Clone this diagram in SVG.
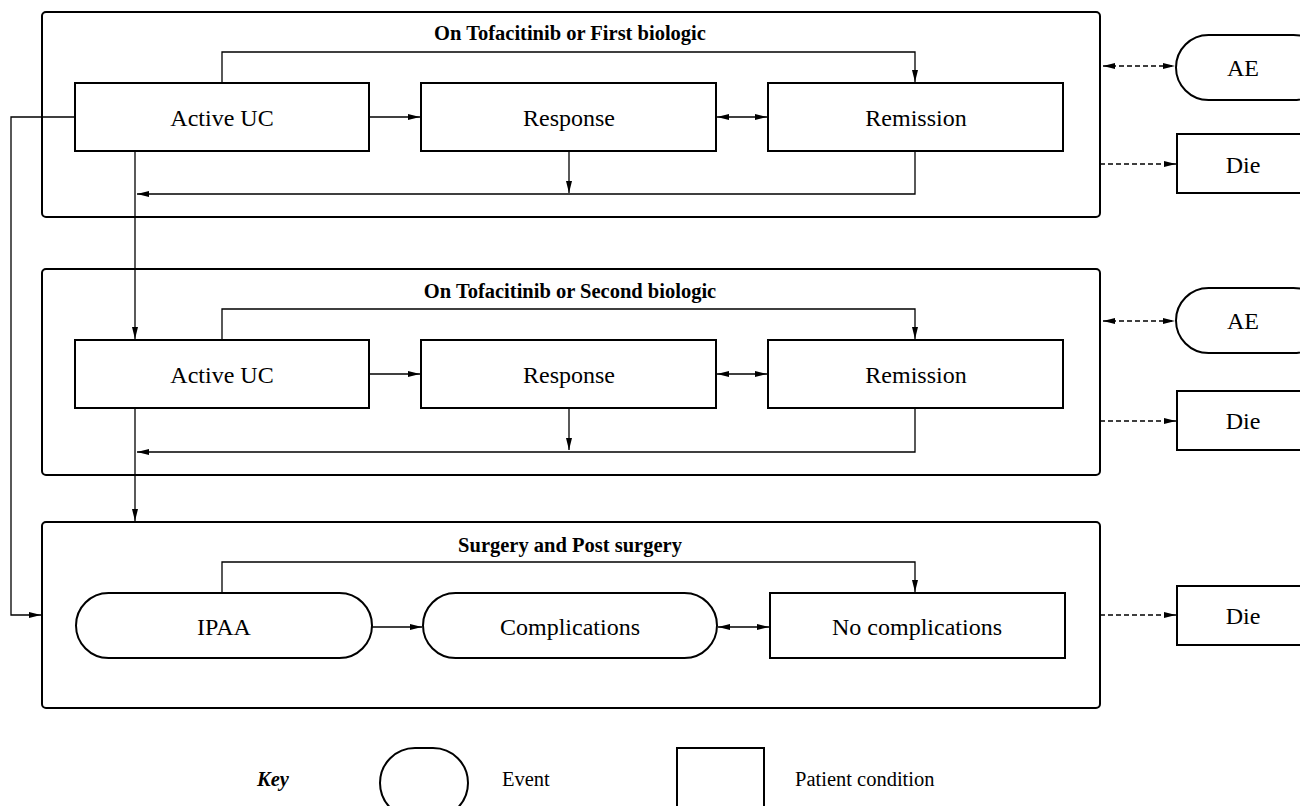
<svg xmlns="http://www.w3.org/2000/svg" width="1300" height="806" viewBox="0 0 1300 806">
<style>
.panel{fill:none;stroke:#000;stroke-width:2}
.box{fill:#fff;stroke:#000;stroke-width:2}
.lbl{font-family:"Liberation Serif",serif;font-size:24px;text-anchor:middle;dominant-baseline:central;fill:#000}
.ttl{font-family:"Liberation Serif",serif;font-size:20.5px;font-weight:bold;text-anchor:middle;fill:#000}
.ln{fill:none;stroke:#000;stroke-width:1.3}
.ar{marker-end:url(#ah)}
.dar{marker-end:url(#ah);marker-start:url(#ahs)}
.dash{stroke-dasharray:5,3}
.key{font-family:"Liberation Serif",serif;font-size:20.5px;fill:#000;dominant-baseline:central}
</style>
<defs>
<marker id="ah" viewBox="0 0 12 6" refX="12" refY="3" markerWidth="12" markerHeight="6" markerUnits="userSpaceOnUse" orient="auto"><path d="M0,0 L12,3 L0,6 Z" fill="#000"/></marker>
<marker id="ahs" viewBox="0 0 12 6" refX="0" refY="3" markerWidth="12" markerHeight="6" markerUnits="userSpaceOnUse" orient="auto"><path d="M12,0 L0,3 L12,6 Z" fill="#000"/></marker>
</defs>
<rect width="1300" height="806" fill="#fff"/>

<g id="panel1">
<rect class="panel" x="42" y="12" width="1058" height="205" rx="4"/>
<text class="ttl" x="570" y="40">On Tofacitinib or First biologic</text>
</g>
<g id="panel2">
<rect class="panel" x="42" y="269" width="1058" height="206" rx="4"/>
<text class="ttl" x="570" y="298">On Tofacitinib or Second biologic</text>
</g>
<g id="panel3">
<rect class="panel" x="42" y="522" width="1058" height="186" rx="4"/>
<text class="ttl" x="570" y="552">Surgery and Post surgery</text>
</g>

<g id="connectors">
<path class="ln ar" d="M222,83 V52 H915 V82"/>
<path class="ln ar" d="M369,117 H420"/>
<path class="ln dar" d="M717,117 H767"/>
<path class="ln ar" d="M569,151 V193"/>
<path class="ln ar" d="M915,151 V194 H137"/>
<path class="ln ar" d="M135,151 V339"/>
<path class="ln ar" d="M75,117 H11 V615 H41"/>
<path class="ln dar dash" d="M1103,66 H1175"/>
<path class="ln ar dash" d="M1100,164 H1176"/>
<path class="ln ar" d="M222,340 V309 H915 V339"/>
<path class="ln ar" d="M369,374 H420"/>
<path class="ln dar" d="M717,374 H767"/>
<path class="ln ar" d="M569,408 V450"/>
<path class="ln ar" d="M915,408 V452 H137"/>
<path class="ln ar" d="M135,408 V521"/>
<path class="ln dar dash" d="M1103,321 H1175"/>
<path class="ln ar dash" d="M1100,421 H1176"/>
<path class="ln ar" d="M222,593 V562 H915 V592"/>
<path class="ln ar" d="M372,627 H422"/>
<path class="ln dar" d="M718,627 H769"/>
<path class="ln ar dash" d="M1100,615 H1176"/>
</g>

<g id="activeuc1"><rect class="box" x="75" y="83" width="294" height="68"/><text class="lbl" x="222" y="118">Active UC</text></g>
<g id="response1"><rect class="box" x="421" y="83" width="295" height="68"/><text class="lbl" x="569" y="118">Response</text></g>
<g id="remission1"><rect class="box" x="768" y="83" width="295" height="68"/><text class="lbl" x="916" y="118">Remission</text></g>
<g id="ae1"><rect class="box" x="1176" y="35" width="150" height="65" rx="32.5"/><text class="lbl" x="1243" y="68">AE</text></g>
<g id="die1"><rect class="box" x="1177" y="134" width="150" height="59"/><text class="lbl" x="1243" y="165">Die</text></g>

<g id="activeuc2"><rect class="box" x="75" y="340" width="294" height="68"/><text class="lbl" x="222" y="375">Active UC</text></g>
<g id="response2"><rect class="box" x="421" y="340" width="295" height="68"/><text class="lbl" x="569" y="375">Response</text></g>
<g id="remission2"><rect class="box" x="768" y="340" width="295" height="68"/><text class="lbl" x="916" y="375">Remission</text></g>
<g id="ae2"><rect class="box" x="1176" y="288" width="150" height="65" rx="32.5"/><text class="lbl" x="1243" y="321">AE</text></g>
<g id="die2"><rect class="box" x="1177" y="391" width="150" height="59"/><text class="lbl" x="1243" y="421">Die</text></g>

<g id="ipaa"><rect class="box" x="76" y="593" width="296" height="65" rx="32.5"/><text class="lbl" x="224" y="627">IPAA</text></g>
<g id="complications"><rect class="box" x="423" y="593" width="294" height="65" rx="32.5"/><text class="lbl" x="570" y="627">Complications</text></g>
<g id="nocomplications"><rect class="box" x="770" y="593" width="295" height="65"/><text class="lbl" x="917" y="627">No complications</text></g>
<g id="die3"><rect class="box" x="1177" y="586" width="150" height="59"/><text class="lbl" x="1243" y="616">Die</text></g>

<g id="key">
<text class="key" x="257" y="779" font-style="italic" font-weight="bold">Key</text>
<rect class="box" x="380" y="748" width="88" height="70" rx="35"/>
<text class="key" x="502" y="779">Event</text>
<rect class="box" x="677" y="748" width="87" height="70"/>
<text class="key" x="795" y="779">Patient condition</text>
</g>
</svg>
